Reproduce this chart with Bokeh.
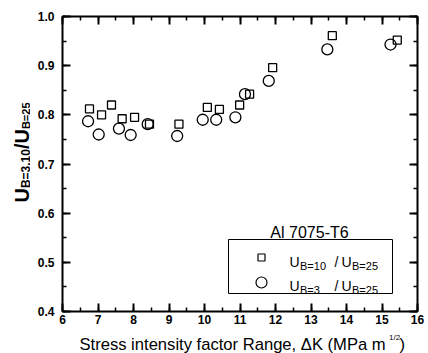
import math
from bokeh.plotting import figure
from bokeh.layouts import row, column
from bokeh.models import (LinearAxis, SingleIntervalTicker, Range1d, Label,
                          PrintfTickFormatter, CustomJSTickFormatter)
from bokeh.core.properties import value
from bokeh.embed import file_html
from bokeh.resources import INLINE

# ---- data ----
dk_b10 = [6.76, 7.10, 7.38, 7.68, 8.03, 8.45, 9.28, 10.08, 10.42, 10.99, 11.27, 11.92, 13.60, 15.43]
ratio_b10 = [0.812, 0.800, 0.820, 0.792, 0.795, 0.781, 0.781, 0.815, 0.811, 0.820, 0.842, 0.896, 0.961, 0.952]
dk_b3 = [6.72, 7.02, 7.59, 7.92, 8.40, 9.23, 9.95, 10.33, 10.87, 11.14, 11.81, 13.46, 15.24]
ratio_b3 = [0.787, 0.760, 0.772, 0.759, 0.781, 0.757, 0.790, 0.790, 0.795, 0.842, 0.869, 0.933, 0.943]
material = "Al 7075-T6"
x_label = "Stress intensity factor Range, ΔK (MPa m\u00a0\u00a0\u00a0)"
x_label_exp = "1/2"

FONT = "Liberation Sans"
W, H = 428, 353
LW = 30            # width of the strip holding the y axis label
MH = 328           # height of the main figure
X0, X1, Y0, Y1 = 6, 16, 0.4, 1.0
FL, FR, FT, FB = 62, 417, 16, 311   # frame edges in page pixels

def dx(px):
    return X0 + (px - FL) * (X1 - X0) / (FR - FL)

def dy(py):
    return Y0 + (FB - py) * (Y1 - Y0) / (FB - FT)

def blank_fig(w, h):
    f = figure(width=w, height=h, output_backend="svg", toolbar_location=None,
               x_range=Range1d(0, w), y_range=Range1d(0, h),
               min_border=0, x_axis_location=None, y_axis_location=None)
    f.outline_line_color = None
    f.xgrid.visible = False
    f.ygrid.visible = False
    f.background_fill_color = "white"
    f.border_fill_color = "white"
    return f

p = figure(width=W - LW, height=MH, output_backend="svg", toolbar_location=None,
           x_range=Range1d(X0, X1), y_range=Range1d(Y0, Y1),
           min_border_left=FL - LW, min_border_right=W - FR,
           min_border_top=FT, min_border_bottom=MH - FB,
           x_axis_location=None, y_axis_location=None)
p.background_fill_color = "white"
p.border_fill_color = "white"
p.outline_line_color = None
p.xgrid.visible = False
p.ygrid.visible = False

def style_axis(ax, standoff):
    ax.axis_line_width = 2
    ax.axis_line_color = "black"
    ax.major_tick_in = 8
    ax.major_tick_out = 0
    ax.minor_tick_in = 4
    ax.minor_tick_out = 0
    ax.major_tick_line_width = 2
    ax.minor_tick_line_width = 1.5
    ax.major_label_standoff = standoff
    ax.major_label_text_font = FONT
    ax.major_label_text_font_style = "bold"
    ax.major_label_text_color = "black"
    ax.major_label_text_font_size = "12px"

for side in ["below", "above"]:
    ax = LinearAxis(ticker=SingleIntervalTicker(interval=1, num_minor_ticks=2))
    if side == "above":
        ax.formatter = CustomJSTickFormatter(code="return ''")
    style_axis(ax, 3)
    p.add_layout(ax, side)
for side in ["left", "right"]:
    fmt = PrintfTickFormatter(format="%.1f") if side == "left" else CustomJSTickFormatter(code="return ''")
    ax = LinearAxis(ticker=SingleIntervalTicker(interval=0.1, num_minor_ticks=2), formatter=fmt)
    style_axis(ax, 8)
    p.add_layout(ax, side)

# ---- data marks ----
p.scatter(dk_b10, ratio_b10, marker="square", size=8, fill_color=None,
          line_color="black", line_width=1.3)
p.scatter(dk_b3, ratio_b3, marker="circle", size=11, fill_color=None,
          line_color="black", line_width=1.3)

def lab(px, py, text, size, bold=False, align="left"):
    p.add_layout(Label(x=dx(px), y=dy(py), text=text,
                       text_align=align, text_baseline="alphabetic",
                       text_font=FONT, text_font_size=f"{size}px",
                       text_font_style="bold" if bold else "normal",
                       text_color="black"))

# ---- legend ----
lab(309, 232, material, 16, False, "center")
p.quad(left=[dx(228)], right=[dx(392)], top=[dy(239)], bottom=[dy(293)],
       fill_color=None, line_color="black", line_width=1)
p.scatter([dx(261)], [dy(257)], marker="square", size=7, fill_color=None,
          line_color="black", line_width=1.2)
p.scatter([dx(261)], [dy(282)], marker="circle", size=11, fill_color=None,
          line_color="black", line_width=1.2)
for yb, sub in [(261, "B=10"), (285, "B=3")]:
    lab(289, yb, "U", 14)
    lab(299.5, yb + 4, sub, 11)
    lab(334, yb, "/", 14)
    lab(341, yb, "U", 14)
    lab(351.5, yb + 4, "B=25", 11)

# ---- y axis label strip (rotated text with subscripts) ----
fy = blank_fig(LW, H)
def ytxt(px, py, text, size):
    fy.text(x=[px], y=[H - py], text=[text], angle=math.pi / 2,
            text_align="left", text_baseline="alphabetic",
            text_font=value(FONT), text_font_size=value(f"{size}px"),
            text_font_style="bold", text_color="black")
ytxt(21, 202, "U", 20)
ytxt(25, 187.6, "B=3,10", 12)
ytxt(21, 148.6, "/U", 20)
ytxt(25, 128.6, "B=25", 11)

# ---- x axis label strip ----
XH = H - MH
fx = blank_fig(W - LW, XH)
def xtxt(px, py, text, size, align="left"):
    fx.text(x=[px - LW], y=[H - py], text=[text],
            text_align=align, text_baseline="alphabetic",
            text_font=value(FONT), text_font_size=value(f"{size}px"),
            text_color="black")
xtxt(414, 344, x_label, 16.6, "right")
xtxt(396, 337, x_label_exp, 8)

layout = row(fy, column(p, fx, spacing=0), spacing=0)
open("out.html", "w").write(file_html(layout, INLINE))
